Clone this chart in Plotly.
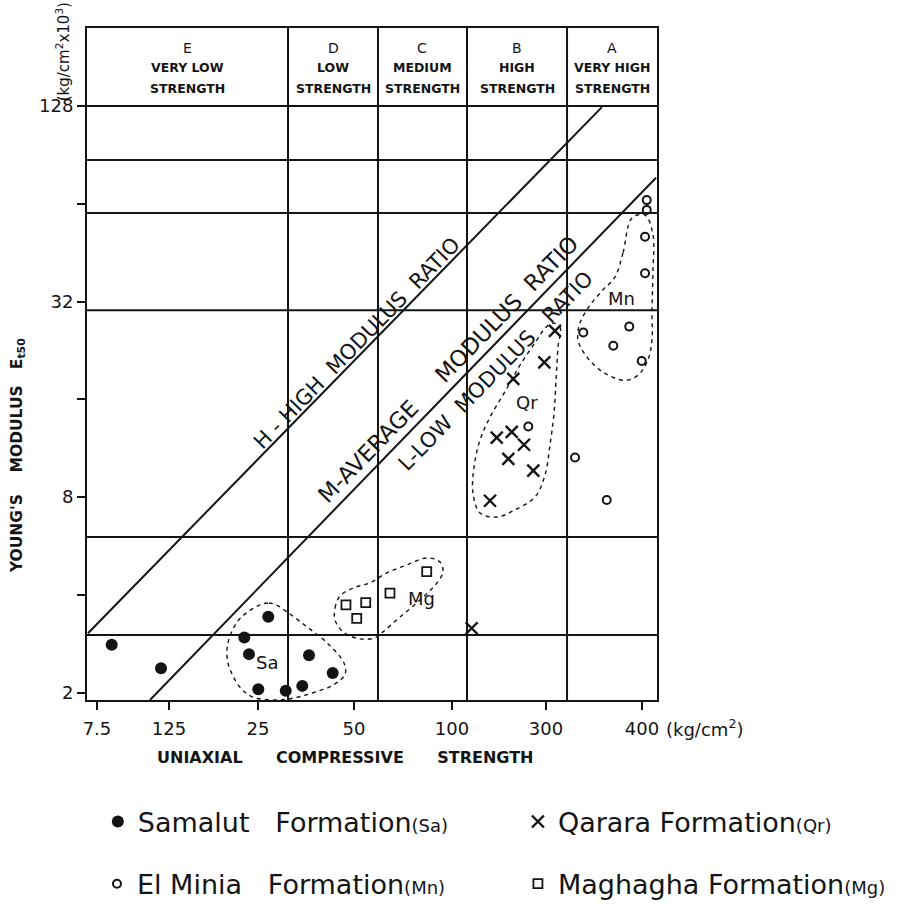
import numpy as np
import plotly.graph_objects as go

# ---------------- axes ----------------
# x: position along the (hand-scaled) strength axis, y: E (kg/cm2 x10^3), log scale
X_TICK_POS = [0.105, 0.863, 1.80, 2.81, 3.842, 4.832, 5.842]
X_TICK_TEXT = ["7.5", "125", "25", "50", "100", "300", "400"]
Y_TICK_VALS = [2, 8, 32, 128]
Y_TICK_TEXT = ["2", "8", "32", "128"]
Y_MINOR_VALS = [4, 16, 64]
X_RANGE = [0.0, 6.0]
E_RANGE = [1.90, 222.5]

# strength classes (boundaries on x) and horizontal reference lines (E)
CLASS_BOUNDS = [0.0, 2.116, 3.063, 4.0, 5.053, 6.0]
CLASS_LETTERS = ["E", "D", "C", "B", "A"]
CLASS_NAMES = ["VERY LOW", "LOW", "MEDIUM", "HIGH", "VERY HIGH"]
E_GRID = [128, 87.3, 60.0, 30.1, 6.03, 3.01]

# modulus-ratio boundary lines
H_LINE_X = [0.01, 5.42]
H_LINE_E = [3.05, 127.0]
M_LINE_X = [0.663, 5.99]
M_LINE_E = [1.90, 77.0]

# ---------------- test results ----------------
SA_X = [0.26, 0.779, 1.908, 1.656, 1.705, 1.803, 2.092, 2.266, 2.337, 2.586]
SA_E = [2.81, 2.38, 3.43, 2.96, 2.63, 2.05, 2.03, 2.10, 2.61, 2.30]

QR_X = [4.926, 4.814, 4.487, 4.313, 4.471, 4.60, 4.435, 4.698, 4.242, 4.049]
QR_E = [26.0, 20.8, 18.5, 12.2, 12.7, 11.6, 10.5, 9.65, 7.80, 3.16]

MN_X = [4.645, 5.137, 5.471, 5.224, 5.54, 5.708, 5.839, 5.874, 5.874, 5.892, 5.892]
MN_E = [13.2, 10.6, 7.84, 25.7, 23.4, 26.8, 21.0, 50.7, 39.1, 65.7, 61.3]

MG_X = [2.726, 2.934, 2.839, 3.189, 3.576]
MG_E = [3.73, 3.79, 3.39, 4.05, 4.72]

# ---------------- group envelopes ----------------
SA_ENV_X = [1.989, 1.905, 1.821, 1.695, 1.579, 1.484, 1.484, 1.611, 1.747, 2.0,
            2.189, 2.379, 2.589, 2.716, 2.705, 2.526, 2.316, 2.105]
SA_ENV_E = [3.73, 3.78, 3.73, 3.55, 3.30, 2.85, 2.47, 2.08, 1.94, 1.90,
            1.93, 2.00, 2.11, 2.28, 2.47, 2.85, 3.19, 3.55]

MG_ENV_X = [2.611, 2.611, 2.663, 2.80, 2.979, 3.158, 3.368, 3.579, 3.716, 3.747,
            3.684, 3.505, 3.295, 3.116, 3.032, 2.874, 2.695]
MG_ENV_E = [3.35, 3.65, 3.97, 4.20, 4.36, 4.68, 4.95, 5.20, 5.05, 4.71,
            4.36, 3.86, 3.42, 3.08, 2.95, 2.93, 3.08]

QR_ENV_X = [4.905, 4.979, 4.958, 4.937, 4.916, 4.874, 4.821, 4.716, 4.505, 4.316,
            4.137, 4.063, 4.074, 4.137, 4.242, 4.40, 4.558, 4.737, 4.821]
QR_ENV_E = [27.5, 26.7, 23.2, 18.3, 14.5, 11.6, 9.36, 8.01, 7.31, 6.95,
            7.15, 8.24, 9.91, 12.0, 14.1, 16.9, 20.4, 24.4, 26.5]

MN_ENV_X = [5.737, 5.642, 5.558, 5.432, 5.295, 5.189, 5.168, 5.263, 5.432, 5.663,
            5.80, 5.905, 5.947, 5.947, 5.958, 5.958, 5.874]
MN_ENV_E = [57.9, 45.2, 38.1, 34.8, 31.2, 27.5, 24.4, 21.6, 19.4, 18.3,
            19.0, 21.2, 24.4, 30.1, 40.0, 51.3, 59.1]

GROUP_LABELS = ["Sa", "Mg", "Qr", "Mn"]
GROUP_LABEL_X = [1.891, 3.523, 4.628, 5.628]
GROUP_LABEL_E = [2.47, 3.91, 15.7, 32.8]

NB = "\u00a0"
RATIO_TEXT = [f"H{NB}-{NB}HIGH{NB} MODULUS{NB} RATIO",
              f"M-AVERAGE{NB*4} MODULUS{NB} RATIO",
              f"L-LOW{NB} MODULUS{NB*2} RATIO"]
RATIO_TEXT_X = [2.842, 3.80, 4.305]
RATIO_TEXT_E = [23.9, 19.9, 19.5]
RATIO_TEXT_SIZE = [21, 22.5, 21]

INK = "#141414"
LINE_W = 2

fig = go.Figure()


def line(xs, ys, width=LINE_W, dash=None, shape="linear"):
    fig.add_trace(go.Scatter(
        x=xs, y=ys, mode="lines", showlegend=False, hoverinfo="skip",
        line=dict(color=INK, width=width, dash=dash, shape=shape),
    ))


# horizontal reference lines
for e in E_GRID:
    line(X_RANGE, [e, e])
# class boundaries
for b in CLASS_BOUNDS[1:-1]:
    line([b, b], E_RANGE)
# modulus-ratio lines
line(H_LINE_X, H_LINE_E)
line(M_LINE_X, M_LINE_E)

# dashed envelopes around each formation
for ex, ee in [(SA_ENV_X, SA_ENV_E), (MG_ENV_X, MG_ENV_E),
               (QR_ENV_X, QR_ENV_E), (MN_ENV_X, MN_ENV_E)]:
    line(ex + ex[:1], ee + ee[:1], width=1.4, dash="4px,4px", shape="spline")

SMALL = "<span style='font-size:18px'>{}</span>"

# formations, one legend entry each
fig.add_trace(go.Scatter(
    x=SA_X, y=SA_E, mode="markers", legend="legend",
    name=f"Samalut{NB*2} Formation" + SMALL.format("(Sa)"),
    marker=dict(symbol="circle", size=12, color=INK),
))
fig.add_trace(go.Scatter(
    x=QR_X, y=QR_E, mode="markers", legend="legend2",
    name="Qarara Formation" + SMALL.format("(Qr)"),
    marker=dict(symbol="x-thin-open", size=12, color=INK, line=dict(width=2.4, color=INK)),
))
fig.add_trace(go.Scatter(
    x=MN_X, y=MN_E, mode="markers", legend="legend3",
    name=f"El Minia{NB*2} Formation" + SMALL.format("(Mn)"),
    marker=dict(symbol="circle-open", size=8, color=INK, line=dict(width=2, color=INK)),
))
fig.add_trace(go.Scatter(
    x=MG_X, y=MG_E, mode="markers", legend="legend4",
    name="Maghagha Formation" + SMALL.format("(Mg)"),
    marker=dict(symbol="square-open", size=9, color=INK, line=dict(width=1.8, color=INK)),
))

annotations = []
# header: strength classes
for i, (letter, name) in enumerate(zip(CLASS_LETTERS, CLASS_NAMES)):
    cx = (CLASS_BOUNDS[i] + CLASS_BOUNDS[i + 1]) / 2
    for txt, yy, fnt in [(letter, 0.970, dict(size=14)),
                         (name, 0.941, dict(size=12.5, weight="bold")),
                         ("STRENGTH", 0.910, dict(size=12.5, weight="bold"))]:
        annotations.append(dict(x=cx, y=yy, xref="x", yref="paper", text=txt,
                                xanchor="center", yanchor="middle",
                                showarrow=False, font=dict(color=INK, **fnt)))

# modulus-ratio labels
for t, x, e, s in zip(RATIO_TEXT, RATIO_TEXT_X, RATIO_TEXT_E, RATIO_TEXT_SIZE):
    annotations.append(dict(x=x, y=np.log10(e), xref="x", yref="y", text=t,
                            xanchor="center", yanchor="middle",
                            textangle=-45.8, showarrow=False,
                            font=dict(size=s, color=INK)))

# formation group labels
for t, x, e in zip(GROUP_LABELS, GROUP_LABEL_X, GROUP_LABEL_E):
    annotations.append(dict(x=x, y=np.log10(e), xref="x", yref="y", text=t,
                            xanchor="center", yanchor="middle",
                            showarrow=False, font=dict(size=18, color=INK)))

# axis titles and units
annotations += [
    dict(x=-0.121, y=0.363, xref="paper", yref="paper", xanchor="center", yanchor="middle",
         text=f"YOUNG'S{NB*3} MODULUS{NB*2} E<sub>t50</sub>", textangle=-90,
         showarrow=False, font=dict(size=15.5, color=INK, weight="bold")),
    dict(x=-0.042, y=0.964, xref="paper", yref="paper", xanchor="center", yanchor="middle",
         text="(kg/cm<sup>2</sup>x10<sup>3</sup>)", textangle=-90,
         showarrow=False, font=dict(size=15, color=INK)),
    dict(x=0.454, y=-0.085, xref="paper", yref="paper", xanchor="center", yanchor="middle",
         text=f"UNIAXIAL{NB*5} COMPRESSIVE{NB*5} STRENGTH",
         showarrow=False, font=dict(size=16, color=INK, weight="bold")),
    dict(x=1.013, y=-0.042, xref="paper", yref="paper", xanchor="left", yanchor="middle",
         text="(kg/cm<sup>2</sup>)", showarrow=False, font=dict(size=18, color=INK)),
]

axis_common = dict(showline=True, linecolor=INK, linewidth=LINE_W, mirror=True,
                   ticks="outside", ticklen=8, tickwidth=LINE_W, tickcolor=INK,
                   showgrid=False, zeroline=False,
                   tickfont=dict(size=18, color=INK))

legend_common = dict(orientation="h", xanchor="left", yanchor="middle",
                     font=dict(size=27, color=INK), bgcolor="rgba(0,0,0,0)",
                     itemclick=False, itemdoubleclick=False)

fig.update_layout(
    width=904, height=904,
    margin=dict(l=87, r=247, t=28, b=204, autoexpand=False),
    paper_bgcolor="white", plot_bgcolor="white",
    font=dict(family="DejaVu Sans", color=INK),
    xaxis=dict(range=X_RANGE, tickvals=X_TICK_POS, ticktext=X_TICK_TEXT,
               ticklabelstandoff=3, **axis_common),
    yaxis=dict(type="log", range=[np.log10(E_RANGE[0]), np.log10(E_RANGE[1])],
               tickvals=Y_TICK_VALS, ticktext=Y_TICK_TEXT,
               minor=dict(tickvals=Y_MINOR_VALS, ticks="outside", ticklen=8,
                          tickwidth=LINE_W, tickcolor=INK, showgrid=False),
               **axis_common),
    legend=dict(x=0.019, y=-0.1815, **legend_common),
    legend2=dict(x=0.756, y=-0.1815, **legend_common),
    legend3=dict(x=0.0175, y=-0.274, **legend_common),
    legend4=dict(x=0.756, y=-0.274, **legend_common),
    annotations=annotations,
)

fig.write_html("out.html")
